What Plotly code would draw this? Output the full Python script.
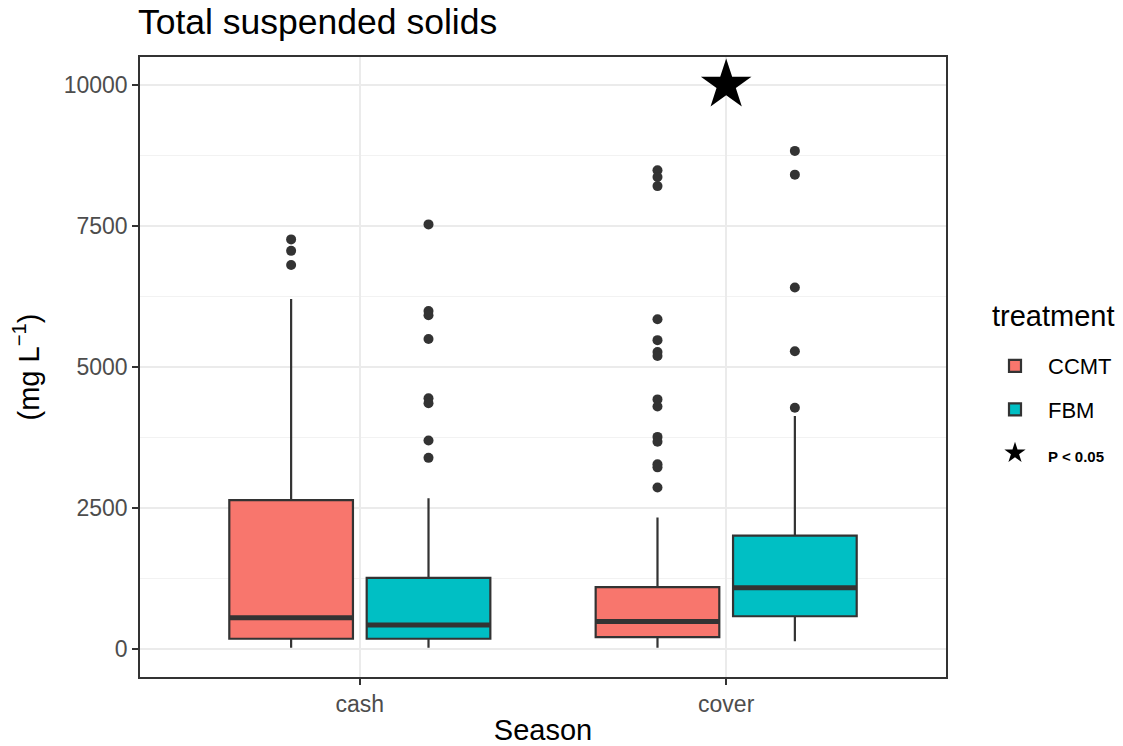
import plotly.graph_objects as go

# ---- data ----
seasons = ["cash", "cover"]
treatments = ["CCMT", "FBM"]

ccmt_lowerfence = [21, 21]
ccmt_q1 = [182, 210]
ccmt_median = [553, 490]
ccmt_q3 = [2640, 1099]
ccmt_upperfence = [6204, 2332]

fbm_lowerfence = [21, 140]
fbm_q1 = [182, 581]
fbm_median = [427, 1085]
fbm_q3 = [1261, 2010]
fbm_upperfence = [2675, 4132]

ccmt_outliers_cash = [7262, 7059, 6807]
ccmt_outliers_cover = [8487, 8368, 8207, 5847, 5476, 5266, 5196, 4426, 4300,
                       3761, 3676, 3277, 3221, 2864]
fbm_outliers_cash = [7528, 5994, 5917, 5497, 4447, 4356, 3697, 3389]
fbm_outliers_cover = [8831, 8410, 6408, 5280, 4279]

sig_season = ["cover"]
sig_value = [10000]
sig_label = "P < 0.05"

y_ticks = [0, 2500, 5000, 7500, 10000]

# ---- styling ----
colors = {"CCMT": "#F8766D", "FBM": "#00BFC4"}
dark = "#333333"
FONT = "Liberation Sans, Arial, sans-serif"
dodge = 0.1875
box_w = 0.3375
W, H = 1123, 746
L, R, T, B = 140, 177, 57, 69

pos_index = {s: i + 1 for i, s in enumerate(seasons)}

series = {
    "CCMT": dict(lo=ccmt_lowerfence, q1=ccmt_q1, med=ccmt_median, q3=ccmt_q3,
                 hi=ccmt_upperfence, out=[ccmt_outliers_cash, ccmt_outliers_cover], off=-dodge),
    "FBM": dict(lo=fbm_lowerfence, q1=fbm_q1, med=fbm_median, q3=fbm_q3,
                hi=fbm_upperfence, out=[fbm_outliers_cash, fbm_outliers_cover], off=dodge),
}

fig = go.Figure()

for t in treatments:
    s = series[t]
    xs = [pos_index[c] + s["off"] for c in seasons]
    fig.add_trace(go.Box(
        x=xs, q1=s["q1"], median=s["med"], q3=s["q3"],
        lowerfence=s["lo"], upperfence=s["hi"],
        name=t, width=box_w, whiskerwidth=0,
        fillcolor=colors[t], line=dict(color=dark, width=2.2),
        boxpoints=False, hoverinfo="y",
        legendgroup=t,
    ))

for t in treatments:
    s = series[t]
    # thick median lines (ggplot fatten)
    mx, my = [], []
    for i, c in enumerate(seasons):
        p = pos_index[c] + s["off"]
        mx += [p - box_w / 2, p + box_w / 2, None]
        my += [s["med"][i], s["med"][i], None]
    fig.add_trace(go.Scatter(x=mx, y=my, mode="lines",
                             line=dict(color=dark, width=5),
                             showlegend=False, hoverinfo="skip", legendgroup=t))
    # outliers
    ox, oy = [], []
    for i, c in enumerate(seasons):
        p = pos_index[c] + s["off"]
        ox += [p] * len(s["out"][i])
        oy += s["out"][i]
    fig.add_trace(go.Scatter(x=ox, y=oy, mode="markers",
                             marker=dict(color=dark, size=10, symbol="circle"),
                             showlegend=False, legendgroup=t))

fig.add_trace(go.Scatter(
    x=[pos_index[c] for c in sig_season], y=sig_value, mode="markers",
    marker=dict(symbol="star", size=38, color="black"),
    name="<b><span style='font-size:15px'>" + sig_label.replace("<", "&lt;") + "</span></b>",
    showlegend=True, legendgroup="sig",
))

pw, ph = W - L - R, H - T - B

fig.update_layout(
    width=W, height=H,
    margin=dict(l=L, r=R, t=T, b=B, autoexpand=False),
    paper_bgcolor="white", plot_bgcolor="white",
    boxmode="overlay",
    font=dict(family=FONT, color="black"),
    title=dict(text="Total suspended solids", x=138 / W, xanchor="left",
               xref="container", y=1 - 22 / H, yref="container", yanchor="middle",
               font=dict(size=35.5, color="black")),
    legend=dict(
        font=dict(size=22, color="black"),
        x=(982 - L) / pw, xanchor="left", y=(H - B - 345) / ph, yanchor="top",
        itemsizing="trace", itemwidth=56,
        traceorder="grouped", tracegroupgap=12,
        bgcolor="rgba(0,0,0,0)",
    ),
    annotations=[dict(
        text="treatment", xref="paper", yref="paper",
        x=(990 - L) / pw, y=(H - B - 316) / ph, xanchor="left", yanchor="middle",
        showarrow=False, font=dict(size=29, color="black", family=FONT),
    )],
    showlegend=True,
)

fig.update_xaxes(
    range=[0.4, 2.6], tickvals=[1, 2], ticktext=seasons,
    showgrid=True, gridcolor="#EBEBEB", gridwidth=2,
    showline=True, mirror=True, linecolor=dark, linewidth=1.5,
    ticks="outside", ticklen=6, tickwidth=2, tickcolor=dark,
    tickfont=dict(size=23, color="#4D4D4D", family=FONT),
    title=dict(text="Season", font=dict(size=29, color="black"), standoff=8),
    zeroline=False, automargin=False,
)
fig.update_yaxes(
    range=[-496, 10496], tickvals=y_ticks, ticktext=[str(v) for v in y_ticks],
    showgrid=True, gridcolor="#EBEBEB", gridwidth=2,
    minor=dict(tickvals=[1250, 3750, 6250, 8750], showgrid=True,
               gridcolor="#F2F2F2", gridwidth=1, ticklen=0),
    showline=True, mirror=True, linecolor=dark, linewidth=1.5,
    ticks="outside", ticklen=6, tickwidth=2, tickcolor=dark,
    tickfont=dict(size=23, color="#4D4D4D", family=FONT),
    title=dict(text="(mg L<sup>\u22121</sup>)", font=dict(size=29, color="black"), standoff=16),
    zeroline=False, automargin=False,
)

fig.write_html("out.html")
